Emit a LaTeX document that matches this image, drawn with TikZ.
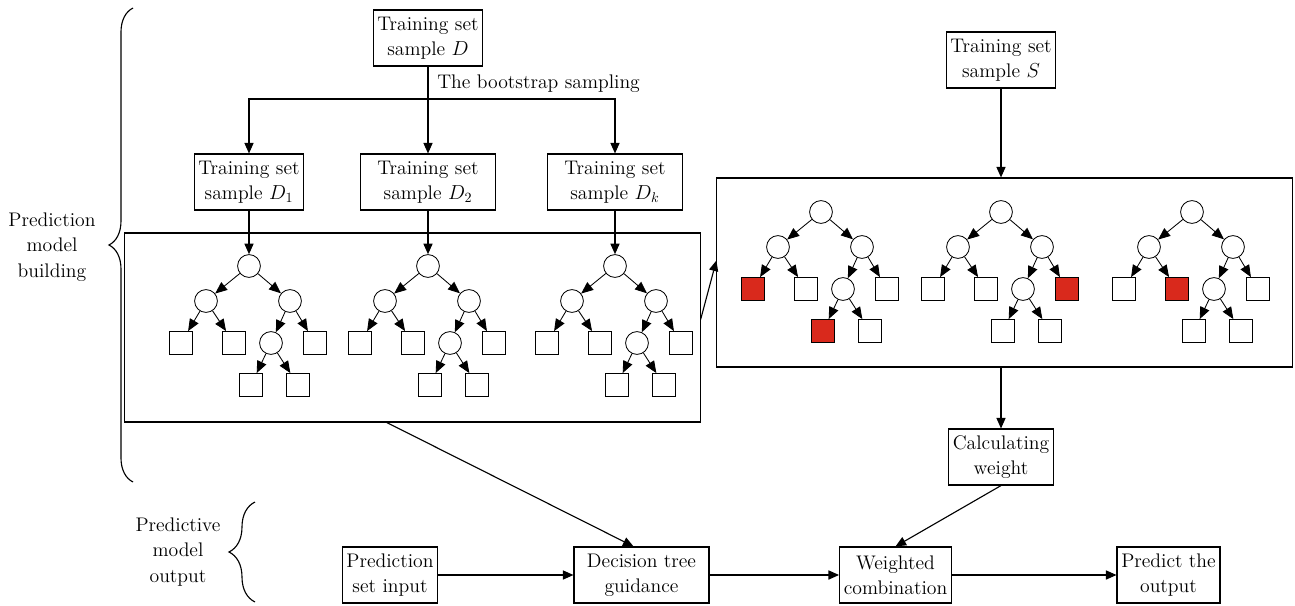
\documentclass[tikz,border=0pt]{standalone}
\usetikzlibrary{arrows.meta,decorations.pathreplacing}
\definecolor{leafred}{RGB}{217,41,28}
\begin{document}
\begin{tikzpicture}[x=0.025cm, y=-0.025cm, line width=0.8pt, >={Triangle[length=7.5pt,width=6.5pt]},
	box/.style={draw, align=center, inner xsep=3pt, inner ysep=2pt, minimum height=1.4cm, font=\fontsize{14}{18}\selectfont},
	wide/.style={box, minimum width=3.375cm},
	panel/.style={draw, minimum width=14.375cm, minimum height=4.725cm},
	knot/.style={draw, circle, line width=0.6pt, fill=white, minimum size=0.57cm, inner sep=0pt},
	leaf/.style={draw, line width=0.6pt, minimum size=0.575cm, inner sep=0pt},
	twig/.style={line width=0.6pt, -{Triangle[length=8.5pt,width=7pt]}},
	txt/.style={align=center, font=\fontsize{14}{18}\selectfont}]
	\useasboundingbox (0,0) rectangle (1295,605);
	
	\node[box] (D) at (428,38) {Training set\\sample $D$};%Gesamtmenge
	\coordinate (split) at (428,99);
	\node[txt, anchor=west] (boot) at (432,84) {The bootstrap sampling};
	\node[box] (D1) at (249,182) {Training set\\sample $D_1$};
	\node[wide] (D2) at (428,182) {Training set\\sample $D_2$};
	\node[wide] (Dk) at (615,182) {Training set\\sample $D_k$};
	\node[box] (S) at (1001,60) {Training set\\sample $S$};
	
	\node[panel] (forestL) at (412.5,327.5) {};%Rahmen links
	\node[panel] (forestR) at (1004.5,272.5) {};%Rahmen rechts
	
	\foreach \tx/\ty/\tn/\fa/\fb/\fc/\fd/\fe in {249/266/L1/white/white/white/white/white, 428/266/L2/white/white/white/white/white, 615/266/L3/white/white/white/white/white, 821/212/R1/leafred/white/white/leafred/white, 1001/212/R2/white/white/leafred/white/white, 1192/212/R3/white/leafred/white/white/white} {
		\node[knot] (\tn-0) at (\tx,\ty) {};
		\node[knot] (\tn-1) at (\tx-43,\ty+35) {};
		\node[knot] (\tn-2) at (\tx+41,\ty+35) {};
		\node[leaf, fill=\fa] (\tn-3) at (\tx-68,\ty+77) {};
		\node[leaf, fill=\fb] (\tn-4) at (\tx-15,\ty+77) {};
		\node[knot] (\tn-5) at (\tx+22,\ty+77) {};
		\node[leaf, fill=\fc] (\tn-6) at (\tx+66,\ty+77) {};
		\node[leaf, fill=\fd] (\tn-7) at (\tx+2,\ty+119) {};
		\node[leaf, fill=\fe] (\tn-8) at (\tx+49,\ty+119) {};
		\draw[twig] (\tn-0) -- (\tn-1);
		\draw[twig] (\tn-0) -- (\tn-2);
		\draw[twig] (\tn-1) -- (\tn-3);
		\draw[twig] (\tn-1) -- (\tn-4);
		\draw[twig] (\tn-2) -- (\tn-5);
		\draw[twig] (\tn-2) -- (\tn-6);
		\draw[twig] (\tn-5) -- (\tn-7);
		\draw[twig] (\tn-5) -- (\tn-8);
	}
	
	\draw[->] (D) -- (D2);
	\draw[->] (split) -| (D1);
	\draw[->] (split) -| (Dk);
	\draw[->] (D1) -- (L1-0);
	\draw[->] (D2) -- (L2-0);
	\draw[->] (Dk) -- (L3-0);
	\draw[->] (S) -- (S |- forestR.north);
	\draw[->] ([yshift=0.2cm]forestL.east) -- ([yshift=0.3cm]forestR.west);
	
	\node[box] (calc) at (1001,457) {Calculating\\weight};
	\node[box] (input) at (390,575) {Prediction\\set input};
	\node[wide] (guide) at (641.5,575) {Decision tree\\guidance};
	\node[box] (comb) at (895.5,575) {Weighted\\combination};
	\node[box] (output) at (1168.5,575) {Predict the\\output};
	
	\draw[->] (calc |- forestR.south) -- (calc);
	\draw[->] ([xshift=-0.64cm]forestL.south) -- ([xshift=-0.2cm]guide.north);
	\draw[->] (calc.south) -- (comb.north);
	\draw[->] (input) -- (guide);
	\draw[->] (guide) -- (comb);
	\draw[->] (comb) -- (output);
	
	\draw[decorate, decoration={brace, amplitude=0.6cm}] (133,482) -- (133,8);%Klammer oben
	\node[txt] (build) at (52,247) {Prediction\\model\\building};
	\draw[decorate, decoration={brace, amplitude=0.65cm}] (255,602) -- (255,502);%Klammer unten
	\node[txt] (outp) at (178,552) {Predictive\\model\\output};
\end{tikzpicture}
\end{document}
